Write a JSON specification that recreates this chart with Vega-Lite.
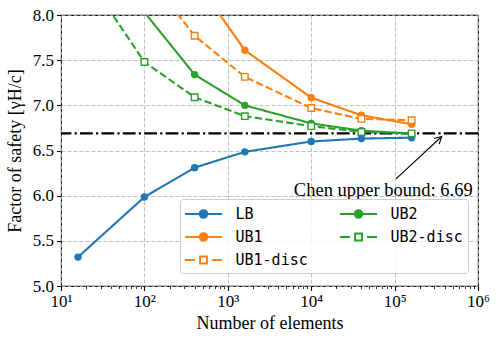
{
  "$schema": "https://vega.github.io/schema/vega-lite/v6.json",
  "width": 417,
  "height": 271,
  "autosize": "none",
  "padding": {"left": 61, "top": 15, "right": 20, "bottom": 53},
  "background": "white",
  "config": {"view": {"stroke": "black", "strokeWidth": 1.1}, "font": "Liberation Serif"},
  "datasets": {
    "main": [
      {"series": "LB", "n": 16, "fs": 5.32},
      {"series": "LB", "n": 100, "fs": 5.985},
      {"series": "LB", "n": 400, "fs": 6.31},
      {"series": "LB", "n": 1600, "fs": 6.485},
      {"series": "LB", "n": 10000, "fs": 6.6},
      {"series": "LB", "n": 40000, "fs": 6.632},
      {"series": "LB", "n": 160000, "fs": 6.642},
      {"series": "UB1", "n": 400, "fs": 8.4},
      {"series": "UB1", "n": 1600, "fs": 7.61},
      {"series": "UB1", "n": 10000, "fs": 7.085},
      {"series": "UB1", "n": 40000, "fs": 6.89},
      {"series": "UB1", "n": 160000, "fs": 6.79},
      {"series": "UB1-disc", "n": 100, "fs": 8.48},
      {"series": "UB1-disc", "n": 400, "fs": 7.77},
      {"series": "UB1-disc", "n": 1600, "fs": 7.315},
      {"series": "UB1-disc", "n": 10000, "fs": 6.97},
      {"series": "UB1-disc", "n": 40000, "fs": 6.85},
      {"series": "UB1-disc", "n": 160000, "fs": 6.835},
      {"series": "UB2", "n": 100, "fs": 8.03},
      {"series": "UB2", "n": 400, "fs": 7.34},
      {"series": "UB2", "n": 1600, "fs": 7.0},
      {"series": "UB2", "n": 10000, "fs": 6.8},
      {"series": "UB2", "n": 40000, "fs": 6.72},
      {"series": "UB2", "n": 160000, "fs": 6.686},
      {"series": "UB2-disc", "n": 16, "fs": 8.57},
      {"series": "UB2-disc", "n": 100, "fs": 7.48},
      {"series": "UB2-disc", "n": 400, "fs": 7.09},
      {"series": "UB2-disc", "n": 1600, "fs": 6.88},
      {"series": "UB2-disc", "n": 10000, "fs": 6.77},
      {"series": "UB2-disc", "n": 40000, "fs": 6.705},
      {"series": "UB2-disc", "n": 160000, "fs": 6.69}
    ],
    "chen": [{"c": 6.69}],
    "anno": [{"n": 863000, "fs": 6.067, "label": "Chen upper bound: 6.69"}],
    "arrow": [{"n": 104000, "fs": 6.186, "n2": 367000, "fs2": 6.655}]
  },
  "layer": [
    {
      "data": {"name": "chen"},
      "mark": {"type": "rule", "color": "black", "strokeWidth": 2.3, "strokeDash": [12.8, 3.2, 2.2, 3.2]},
      "encoding": {"y": {"field": "c", "type": "quantitative", "scale": {"domain": [5, 8], "nice": false, "zero": false}}}
    },
    {
      "data": {"name": "main"},
      "mark": {"type": "line", "strokeWidth": 2.1, "clip": true},
      "encoding": {
        "x": {
          "field": "n", "type": "quantitative",
          "scale": {"type": "log", "domain": [10, 1000000]},
          "axis": {
            "title": "Number of elements",
            "titleFont": "Liberation Serif", "titleFontSize": 18, "titleFontWeight": "normal", "titleColor": "black", "titlePadding": 5,
            "values": [10,20,30,40,50,60,70,80,90,100,200,300,400,500,600,700,800,900,1000,2000,3000,4000,5000,6000,7000,8000,9000,10000,20000,30000,40000,50000,60000,70000,80000,90000,100000,200000,300000,400000,500000,600000,700000,800000,900000,1000000],
            "labelExpr": "abs(log(datum.value)/LN10 - round(log(datum.value)/LN10)) < 0.001 ? '10' + ['⁰','¹','²','³','⁴','⁵','⁶'][round(log(datum.value)/LN10)] : ''",
            "labelOverlap": false, "labelFlush": false,
            "labelFont": "Liberation Serif", "labelFontSize": 17, "labelColor": "black", "labelPadding": 3,
            "domain": false,
            "tickColor": "black",
            "tickSize": {"condition": {"test": "abs(log(datum.value)/LN10 - round(log(datum.value)/LN10)) < 0.001", "value": 4.5}, "value": 2.5},
            "tickWidth": {"condition": {"test": "abs(log(datum.value)/LN10 - round(log(datum.value)/LN10)) < 0.001", "value": 1.1}, "value": 0.8},
            "grid": true, "gridDash": [4, 2], "gridColor": "#b0b0b0", "gridWidth": 0.8,
            "gridOpacity": {"condition": {"test": "abs(log(datum.value)/LN10 - round(log(datum.value)/LN10)) < 0.001", "value": 1}, "value": 0}
          }
        },
        "y": {
          "field": "fs", "type": "quantitative",
          "scale": {"domain": [5, 8], "nice": false, "zero": false},
          "axis": {
            "title": "Factor of safety [γH/c]",
            "titleFont": "Liberation Serif", "titleFontSize": 18, "titleFontWeight": "normal", "titleColor": "black", "titlePadding": 8,
            "values": [5, 5.5, 6, 6.5, 7, 7.5, 8], "format": ".1f",
            "labelFont": "Liberation Serif", "labelFontSize": 17, "labelColor": "black", "labelPadding": 3,
            "domain": false, "tickColor": "black", "tickSize": 4.5, "tickWidth": 1.1,
            "grid": true, "gridDash": [4, 2], "gridColor": "#b0b0b0", "gridWidth": 0.8
          }
        },
        "color": {"field": "series", "type": "nominal",
          "scale": {"range": ["#1f77b4", "#ff7f0e", "#ff7f0e", "#2ca02c", "#2ca02c"]},
          "legend": null},
        "strokeDash": {"field": "series", "type": "nominal",
          "scale": {"range": [[1, 0], [1, 0], [7.4, 3.2], [1, 0], [7.4, 3.2]]},
          "legend": null}
      }
    },
    {
      "data": {"name": "main"},
      "transform": [{"filter": "indexof(datum.series, 'disc') < 0"}],
      "mark": {"type": "point", "shape": "circle", "filled": true, "size": 55, "opacity": 1, "clip": true},
      "encoding": {
        "x": {"field": "n", "type": "quantitative"},
        "y": {"field": "fs", "type": "quantitative"},
        "color": {"field": "series", "type": "nominal", "legend": null}
      }
    },
    {
      "data": {"name": "main"},
      "transform": [{"filter": "indexof(datum.series, 'disc') >= 0"}],
      "mark": {"type": "point", "shape": "square", "filled": false, "fill": "white", "fillOpacity": 1, "size": 42, "strokeWidth": 1.4, "opacity": 1, "clip": true},
      "encoding": {
        "x": {"field": "n", "type": "quantitative"},
        "y": {"field": "fs", "type": "quantitative"},
        "color": {"field": "series", "type": "nominal", "legend": null}
      }
    },
    {
      "data": {"name": "main"},
      "mark": {"type": "point", "opacity": 0, "clip": true, "strokeWidth": 2,
        "fill": {"expr": "datum.value == 'LB' ? '#1f77b4' : datum.value == 'UB1' ? '#ff7f0e' : datum.value == 'UB2' ? '#2ca02c' : 'white'"},
        "stroke": {"expr": "datum.value == 'LB' ? '#1f77b4' : (datum.value == 'UB1' || datum.value == 'UB1-disc') ? '#ff7f0e' : '#2ca02c'"}},
      "encoding": {
        "x": {"field": "n", "type": "quantitative"},
        "y": {"field": "fs", "type": "quantitative"},
        "shape": {"field": "series", "type": "nominal",
          "scale": {"domain": ["LB", "UB1", "UB1-disc", "UB2", "UB2-disc"],
            "range": [
              "M-2.05,0H2.05M0.42,0A0.42,0.42,0,1,1,-0.42,0A0.42,0.42,0,1,1,0.42,0Z",
              "M-2.05,0H2.05M0.42,0A0.42,0.42,0,1,1,-0.42,0A0.42,0.42,0,1,1,0.42,0Z",
              "M-2.05,0H-0.95M-0.38,-0.38H0.38V0.38H-0.38ZM0.95,0H2.05",
              "M-2.05,0H2.05M0.42,0A0.42,0.42,0,1,1,-0.42,0A0.42,0.42,0,1,1,0.42,0Z",
              "M-2.05,0H-0.95M-0.38,-0.38H0.38V0.38H-0.38ZM0.95,0H2.05"
            ]},
          "legend": {
            "title": null, "orient": "none", "legendX": 119, "legendY": 184, "columns": 2,
            "symbolSize": 324, "symbolOffset": 8.5, "labelOffset": 22, "columnPadding": 28, "rowPadding": 5,
            "labelFont": "DejaVu Sans Mono", "labelFontSize": 15, "labelColor": "black",
            "fillColor": "rgba(255,255,255,0.8)", "strokeColor": "#cccccc", "cornerRadius": 3, "padding": 5,
            "symbolStrokeWidth": 2, "symbolOpacity": 1
          }}
      }
    },
    {
      "data": {"name": "anno"},
      "mark": {"type": "text", "align": "right", "baseline": "middle", "font": "Liberation Serif", "fontSize": 18.5, "color": "black"},
      "encoding": {
        "x": {"field": "n", "type": "quantitative"},
        "y": {"field": "fs", "type": "quantitative"},
        "text": {"field": "label", "type": "nominal"}
      }
    },
    {
      "data": {"name": "arrow"},
      "mark": {"type": "rule", "color": "black", "strokeWidth": 1.1},
      "encoding": {
        "x": {"field": "n", "type": "quantitative"},
        "y": {"field": "fs", "type": "quantitative"},
        "x2": {"field": "n2"}, "y2": {"field": "fs2"}
      }
    },
    {
      "data": {"name": "arrow"},
      "mark": {"type": "point", "shape": "M-0.55,1L0,0L0.55,1", "filled": false, "stroke": "black", "strokeWidth": 1.1, "size": 196, "angle": 47, "opacity": 1},
      "encoding": {"x": {"field": "n2", "type": "quantitative"}, "y": {"field": "fs2", "type": "quantitative"}}
    }
  ]
}
